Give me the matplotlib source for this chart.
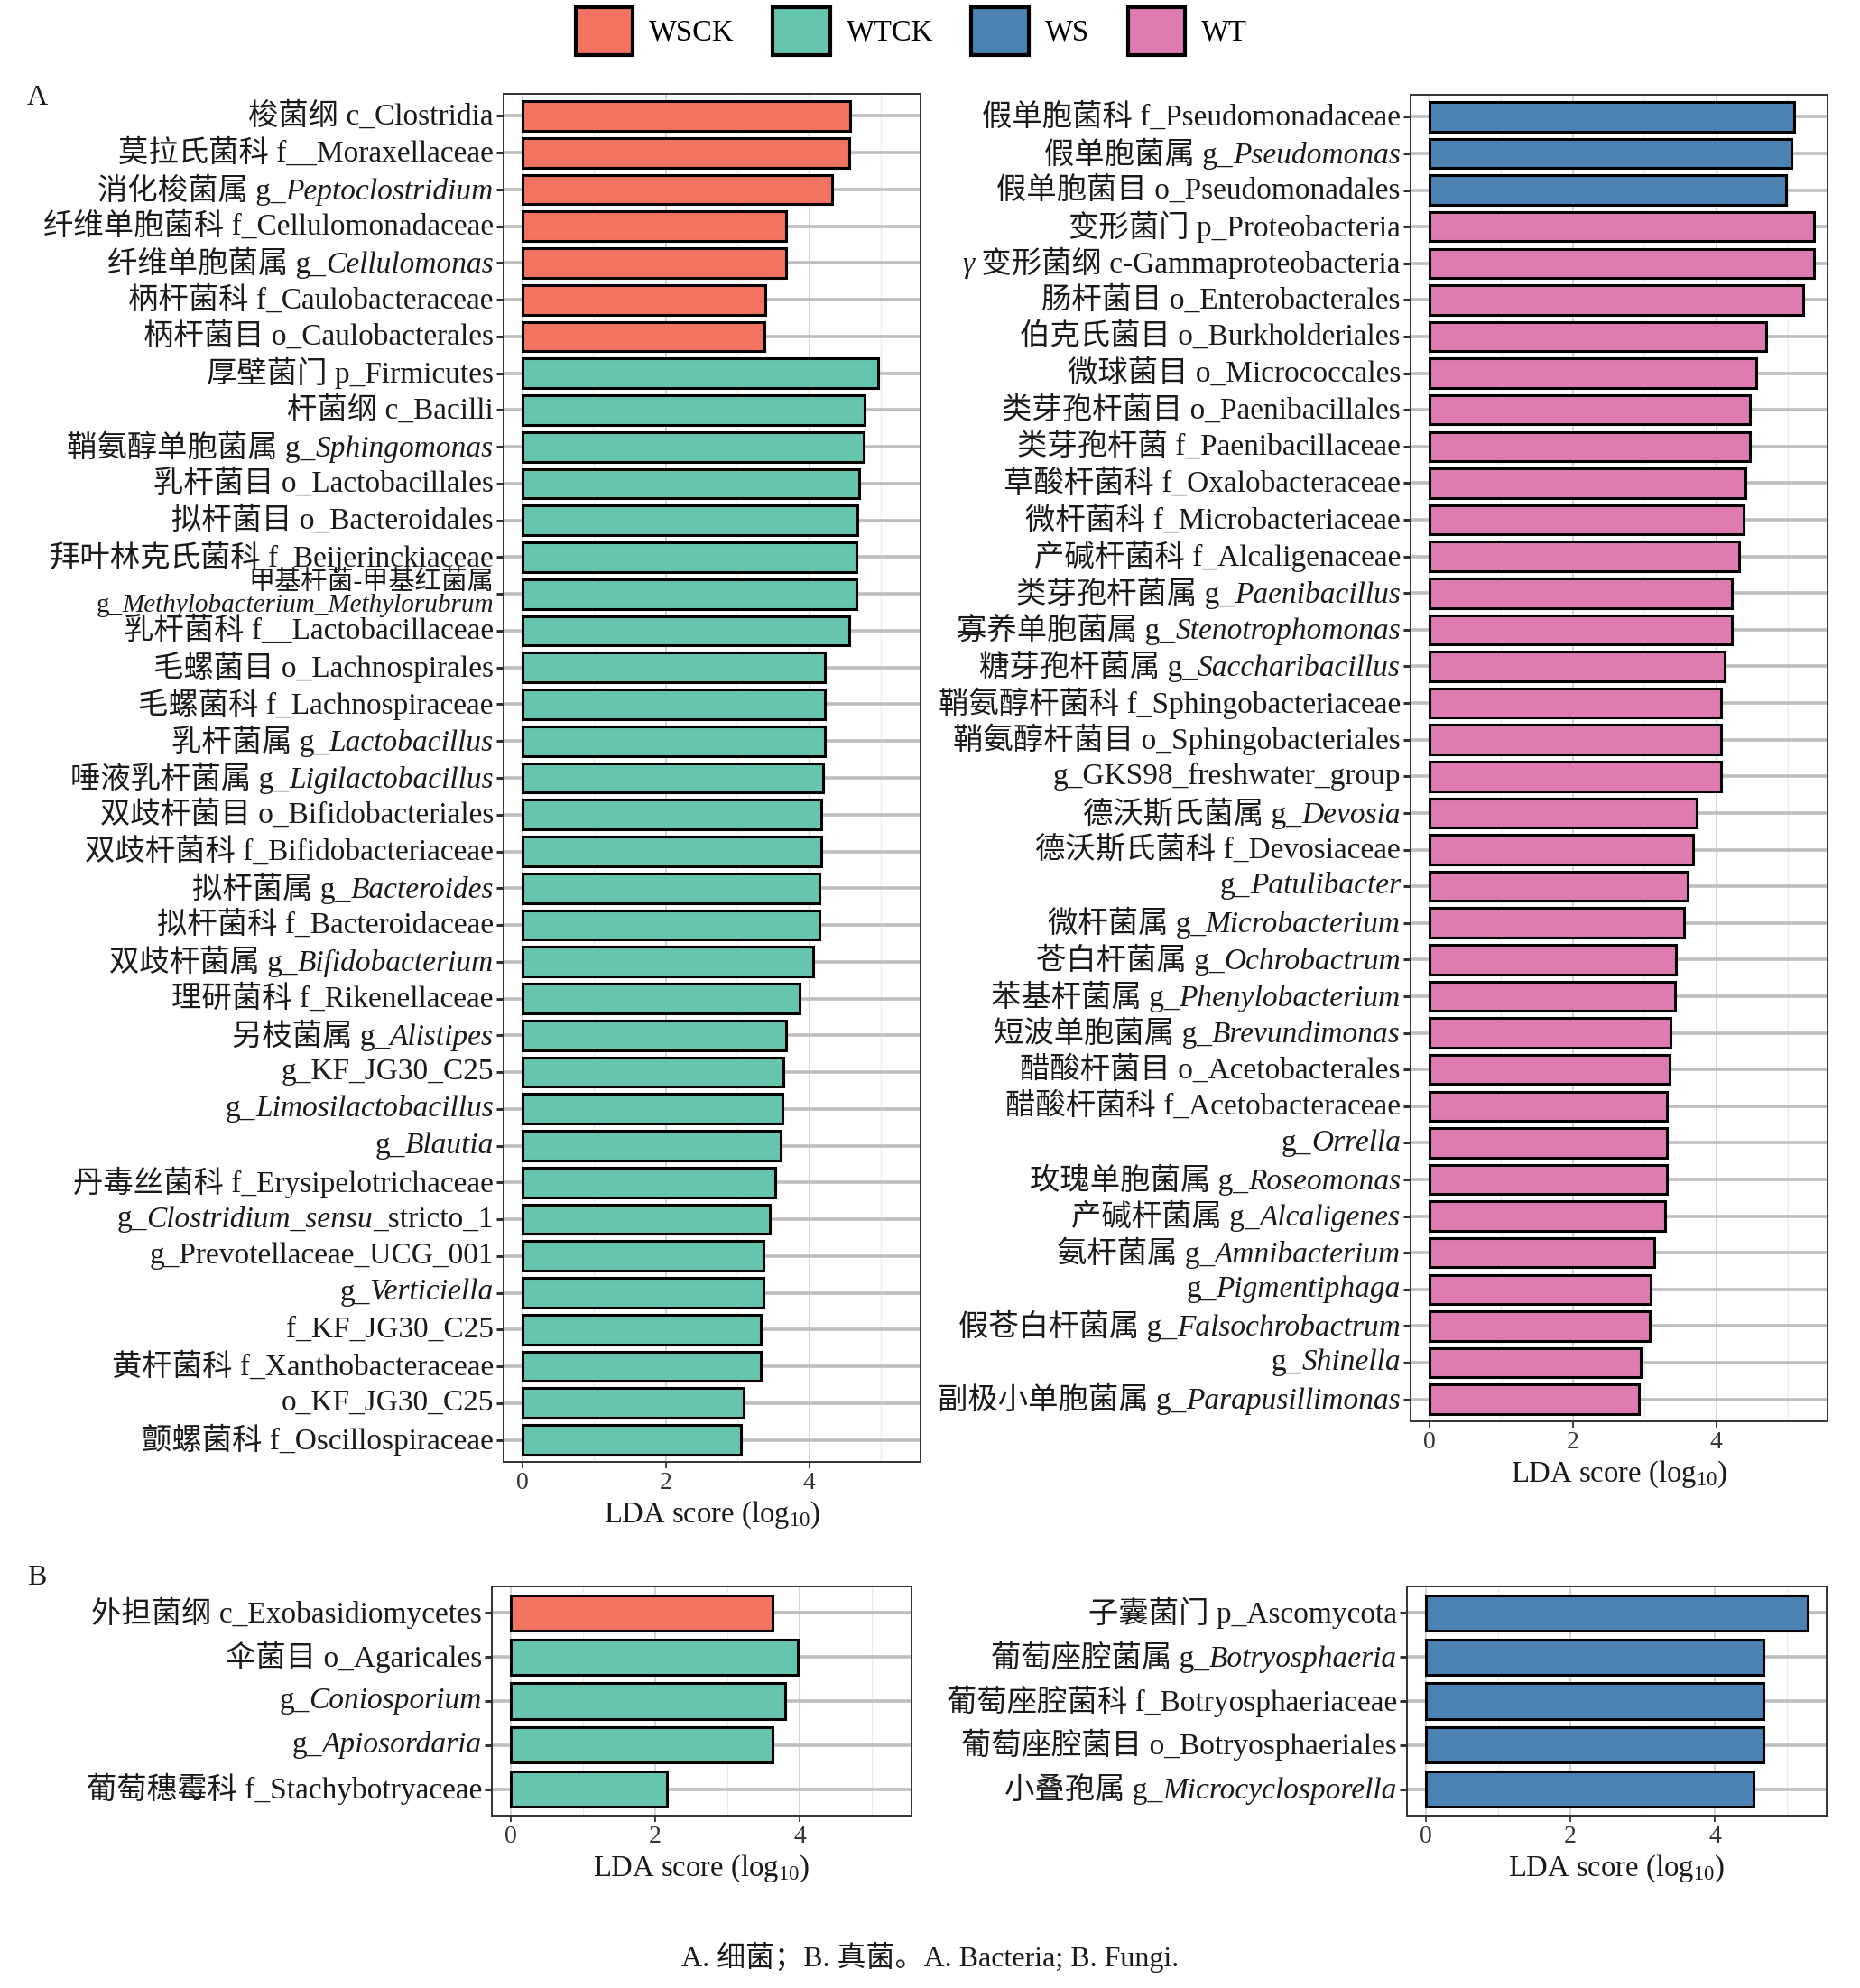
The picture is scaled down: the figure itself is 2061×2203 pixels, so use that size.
import matplotlib
matplotlib.use("Agg")
import matplotlib.pyplot as plt
from matplotlib.offsetbox import TextArea, HPacker, AnnotationBbox
from matplotlib.patches import Patch
from matplotlib.ticker import MultipleLocator

plt.rcParams['font.family'] = ['Liberation Serif', 'Noto Sans CJK SC']
plt.rcParams['mathtext.fontset'] = 'custom'
plt.rcParams['mathtext.rm'] = 'Liberation Serif'
plt.rcParams['mathtext.it'] = 'Liberation Serif:italic'

# group colours
group_names = ['WSCK', 'WTCK', 'WS', 'WT']
group_colors = ['#F27360', '#66C5AF', '#4A82B4', '#DF7BB1']

# A (bacteria), control panel -- text between * is italic, top to bottom
bac_ck_labels = [
    '梭菌纲 c_Clostridia',
    '莫拉氏菌科 f__Moraxellaceae',
    '消化梭菌属 g_*Peptoclostridium*',
    '纤维单胞菌科 f_Cellulomonadaceae',
    '纤维单胞菌属 g_*Cellulomonas*',
    '柄杆菌科 f_Caulobacteraceae',
    '柄杆菌目 o_Caulobacterales',
    '厚壁菌门 p_Firmicutes',
    '杆菌纲 c_Bacilli',
    '鞘氨醇单胞菌属 g_*Sphingomonas*',
    '乳杆菌目 o_Lactobacillales',
    '拟杆菌目 o_Bacteroidales',
    '拜叶林克氏菌科 f_Beijerinckiaceae',
    '甲基杆菌-甲基红菌属\ng_*Methylobacterium_Methylorubrum*',
    '乳杆菌科 f__Lactobacillaceae',
    '毛螺菌目 o_Lachnospirales',
    '毛螺菌科 f_Lachnospiraceae',
    '乳杆菌属 g_*Lactobacillus*',
    '唾液乳杆菌属 g_*Ligilactobacillus*',
    '双歧杆菌目 o_Bifidobacteriales',
    '双歧杆菌科 f_Bifidobacteriaceae',
    '拟杆菌属 g_*Bacteroides*',
    '拟杆菌科 f_Bacteroidaceae',
    '双歧杆菌属 g_*Bifidobacterium*',
    '理研菌科 f_Rikenellaceae',
    '另枝菌属 g_*Alistipes*',
    'g_KF_JG30_C25',
    'g_*Limosilactobacillus*',
    'g_*Blautia*',
    '丹毒丝菌科 f_Erysipelotrichaceae',
    'g_*Clostridium_sensu*_stricto_1',
    'g_Prevotellaceae_UCG_001',
    'g_*Verticiella*',
    'f_KF_JG30_C25',
    '黄杆菌科 f_Xanthobacteraceae',
    'o_KF_JG30_C25',
    '颤螺菌科 f_Oscillospiraceae',
]
bac_ck_scores = [4.57, 4.56, 4.32, 3.68, 3.68, 3.39, 3.38,
                 4.96, 4.77, 4.76, 4.69, 4.67, 4.66, 4.66, 4.56, 4.22,
                 4.22, 4.22, 4.19, 4.17, 4.17, 4.14, 4.14, 4.05, 3.86,
                 3.68, 3.64, 3.62, 3.60, 3.53, 3.45, 3.36, 3.36, 3.33,
                 3.33, 3.09, 3.05]
bac_ck_groups = ['WSCK'] * 7 + ['WTCK'] * 30

# A (bacteria), treatment panel
bac_tr_labels = [
    '假单胞菌科 f_Pseudomonadaceae',
    '假单胞菌属 g_*Pseudomonas*',
    '假单胞菌目 o_Pseudomonadales',
    '变形菌门 p_Proteobacteria',
    '*γ* 变形菌纲 c-Gammaproteobacteria',
    '肠杆菌目 o_Enterobacterales',
    '伯克氏菌目 o_Burkholderiales',
    '微球菌目 o_Micrococcales',
    '类芽孢杆菌目 o_Paenibacillales',
    '类芽孢杆菌 f_Paenibacillaceae',
    '草酸杆菌科 f_Oxalobacteraceae',
    '微杆菌科 f_Microbacteriaceae',
    '产碱杆菌科 f_Alcaligenaceae',
    '类芽孢杆菌属 g_*Paenibacillus*',
    '寡养单胞菌属 g_*Stenotrophomonas*',
    '糖芽孢杆菌属 g_*Saccharibacillus*',
    '鞘氨醇杆菌科 f_Sphingobacteriaceae',
    '鞘氨醇杆菌目 o_Sphingobacteriales',
    'g_GKS98_freshwater_group',
    '德沃斯氏菌属 g_*Devosia*',
    '德沃斯氏菌科 f_Devosiaceae',
    'g_*Patulibacter*',
    '微杆菌属 g_*Microbacterium*',
    '苍白杆菌属 g_*Ochrobactrum*',
    '苯基杆菌属 g_*Phenylobacterium*',
    '短波单胞菌属 g_*Brevundimonas*',
    '醋酸杆菌目 o_Acetobacterales',
    '醋酸杆菌科 f_Acetobacteraceae',
    'g_*Orrella*',
    '玫瑰单胞菌属 g_*Roseomonas*',
    '产碱杆菌属 g_*Alcaligenes*',
    '氨杆菌属 g_*Amnibacterium*',
    'g_*Pigmentiphaga*',
    '假苍白杆菌属 g_*Falsochrobactrum*',
    'g_*Shinella*',
    '副极小单胞菌属 g_*Parapusillimonas*',
]
bac_tr_scores = [5.09, 5.05, 4.97,
                 5.36, 5.36, 5.21, 4.70, 4.56, 4.47, 4.47, 4.41, 4.38,
                 4.32, 4.22, 4.22, 4.12, 4.06, 4.06, 4.06, 3.73, 3.68,
                 3.60, 3.55, 3.44, 3.42, 3.36, 3.35, 3.31, 3.31, 3.31,
                 3.29, 3.13, 3.08, 3.07, 2.95, 2.92]
bac_tr_groups = ['WS'] * 3 + ['WT'] * 33

# B (fungi)
fun_ck_labels = [
    '外担菌纲 c_Exobasidiomycetes',
    '伞菌目 o_Agaricales',
    'g_*Coniosporium*',
    'g_*Apiosordaria*',
    '葡萄穗霉科 f_Stachybotryaceae',
]
fun_ck_scores = [3.63, 3.97, 3.80, 3.62, 2.17]
fun_ck_groups = ['WSCK', 'WTCK', 'WTCK', 'WTCK', 'WTCK']

fun_tr_labels = [
    '子囊菌门 p_Ascomycota',
    '葡萄座腔菌属 g_*Botryosphaeria*',
    '葡萄座腔菌科 f_Botryosphaeriaceae',
    '葡萄座腔菌目 o_Botryosphaeriales',
    '小叠孢属 g_*Microcyclosporella*',
]
fun_tr_scores = [5.29, 4.67, 4.67, 4.67, 4.54]
fun_tr_groups = ['WS', 'WS', 'WS', 'WS', 'WS']

W, H = 2061, 2203
LABEL_SIZE = 24
TEXT_COLOR = '#1a1a1a'


def make_line(line, size):
    parts = line.split('*')
    areas = []
    for k, p in enumerate(parts):
        if p == '':
            continue
        style = 'italic' if k % 2 == 1 else 'normal'
        areas.append(TextArea(p, textprops=dict(fontsize=size,
                                                fontstyle=style,
                                                color=TEXT_COLOR)))
    return HPacker(children=areas, align='baseline', pad=0, sep=0)


def put_labels(ax, labels, ypos):
    for lab, y in zip(labels, ypos):
        lines = lab.split('\n')
        nl = len(lines)
        size = LABEL_SIZE if nl == 1 else 21
        for j, line in enumerate(lines):
            dy = ((nl - 1) / 2 - j) * 18.5
            ab = AnnotationBbox(make_line(line, size), (0, y),
                                xycoords=ax.get_yaxis_transform(),
                                xybox=(-8, dy), boxcoords='offset points',
                                box_alignment=(1, 0.5), frameon=False,
                                pad=0, annotation_clip=False)
            ax.add_artist(ab)


def lda_panel(box, labels, scores, groups, xlim):
    l, r, t, b = box
    ax = plt.gcf().add_axes([l / W, 1 - b / H, (r - l) / W, (b - t) / H])
    n = len(labels)
    ypos = [n - 1 - i for i in range(n)]
    cmap = dict(zip(group_names, group_colors))
    ax.barh(ypos, scores, height=0.8, color=[cmap[g] for g in groups],
            edgecolor='black', linewidth=2.2, zorder=3)
    ax.set_xlim(*xlim)
    ax.set_ylim(-0.6, n - 0.4)
    ax.set_axisbelow(True)
    ax.xaxis.set_major_locator(MultipleLocator(2))
    ax.xaxis.set_minor_locator(MultipleLocator(1))
    ax.grid(axis='x', which='major', color='#D4D4D4', lw=1.4)
    ax.grid(axis='x', which='minor', color='#EBEBEB', lw=1.0)
    ax.grid(axis='y', which='major', color='#BEBEBE', lw=2.6)
    ax.set_yticks(ypos)
    ax.set_yticklabels([''] * n)
    ax.tick_params(axis='y', length=5.5, width=2.2, color='#333333')
    ax.tick_params(axis='x', which='major', length=5, width=1.3,
                   color='#333333', labelsize=20, labelcolor='#333333',
                   pad=3)
    ax.tick_params(axis='x', which='minor', length=0)
    for sp in ax.spines.values():
        sp.set_color('#333333')
        sp.set_linewidth(1.4)
    ax.set_xlabel('LDA score (log$_{10}$)', fontsize=23.5, color=TEXT_COLOR,
                  labelpad=4)
    put_labels(ax, labels, ypos)
    return ax


def main():
    fig = plt.figure(figsize=(W / 100, H / 100), dpi=100)

    lda_panel((558, 1020, 104, 1620), bac_ck_labels, bac_ck_scores,
              bac_ck_groups, (-0.26, 5.55))
    lda_panel((1563, 2025, 105, 1575), bac_tr_labels, bac_tr_scores,
              bac_tr_groups, (-0.26, 5.55))
    lda_panel((545, 1010, 1758, 2012), fun_ck_labels, fun_ck_scores,
              fun_ck_groups, (-0.26, 5.55))
    lda_panel((1559, 2024, 1758, 2012), fun_tr_labels, fun_tr_scores,
              fun_tr_groups, (-0.26, 5.55))

    handles = [Patch(facecolor=c, edgecolor='black', linewidth=3, label=g)
               for g, c in zip(group_names, group_colors)]
    fig.legend(handles=handles, ncol=4, loc='upper center',
               bbox_to_anchor=(0.49, 1 - 8 / H), frameon=False,
               fontsize=23.5, handlelength=1.95, handleheight=2.1,
               handletextpad=0.55, columnspacing=1.3, borderaxespad=0,
               borderpad=0)

    fig.text(30 / W, 1 - 109 / H, 'A', fontsize=23, va='center',
             color=TEXT_COLOR)
    fig.text(30 / W, 1 - 1748 / H, 'B', fontsize=23, va='center',
             color=TEXT_COLOR)
    fig.text(0.5, 1 - 2169 / H, 'A. 细菌；B. 真菌。A. Bacteria; B. Fungi.',
             ha='center', va='center', fontsize=23, color=TEXT_COLOR)

    fig.savefig('out.png', dpi=100, facecolor='white')


if __name__ == '__main__':
    main()
